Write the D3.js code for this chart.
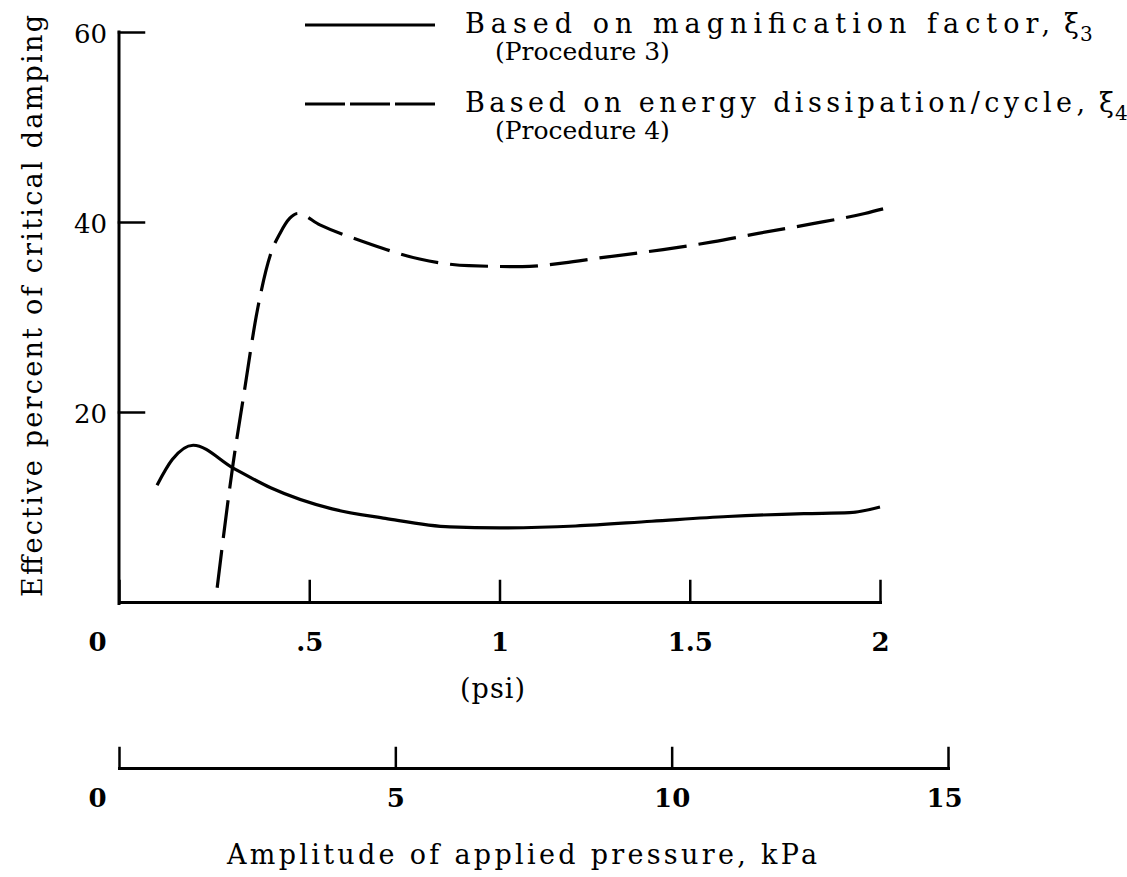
<!DOCTYPE html>
<html>
<head>
<meta charset="utf-8">
<script src="https://cdn.jsdelivr.net/npm/d3@7"></script>
<style>
  body { margin: 0; background: #fff; }
  svg { display: block; }
  text { font-family: "DejaVu Serif", "Liberation Serif", serif; fill: #000; }
</style>
</head>
<body>
<svg id="chart"></svg>
<script>
// tick values
const psiTicks = [0, 0.5, 1, 1.5, 2];
const psiLabels = ['0', '.5', '1', '1.5', '2'];
const kpaTicks = [0, 5, 10, 15];
const pctTicks = [20, 40, 60];

// Procedure 3 - magnification factor (solid)
const proc3Psi = [0.10, 0.14, 0.195, 0.30, 0.40, 0.56, 0.70, 0.87, 1.0, 1.2, 1.4, 1.6, 1.8, 1.92, 2.0];
const proc3Pct = [12.3, 15.0, 16.5, 14.1, 12.0, 9.8, 8.8, 7.9, 7.8, 8.0, 8.5, 9.0, 9.3, 9.4, 10.0];

// Procedure 4 - energy dissipation/cycle (dashed)
const proc4Psi = [0.258, 0.30, 0.326, 0.365, 0.40, 0.423, 0.449, 0.47, 0.528, 0.652, 0.79, 0.92, 1.06, 1.17, 1.26, 1.43, 1.56, 1.68, 1.82, 1.96, 2.02];
const proc4Pct = [1.5, 14.6, 21.3, 31, 36.8, 38.8, 40.4, 40.9, 39.7, 37.8, 36.1, 35.4, 35.3, 35.7, 36.2, 37.1, 37.9, 38.8, 39.8, 40.9, 41.5];

const W = 1127, H = 877;
const svg = d3.select('#chart').attr('width', W).attr('height', H);

const x = d3.scaleLinear().domain([0, 2]).range([119, 880]);
const y = d3.scaleLinear().domain([0, 60]).range([602, 32]);
const k = d3.scaleLinear().domain([0, 15]).range([119, 948]);

function styleAxis(g) {
    g.select('.domain').attr('stroke', '#000').attr('stroke-width', 3);
    g.selectAll('.tick line').attr('stroke', '#000').attr('stroke-width', 2.5);
}

// psi axis
const xAxis = svg.append('g')
    .attr('transform', 'translate(0,602)')
    .call(d3.axisBottom(x).tickValues(psiTicks).tickSizeInner(-21).tickSizeOuter(0)
        .tickFormat((d, i) => psiLabels[i]));
styleAxis(xAxis);
xAxis.selectAll('.tick text')
    .attr('y', 49).attr('dy', 0)
    .attr('x', d => d === 0 ? -22 : 0)
    .style('font-size', '26px').style('font-weight', 'bold');

// y axis
const yAxis = svg.append('g')
    .attr('transform', 'translate(119,0)')
    .call(d3.axisLeft(y).tickValues(pctTicks).tickSizeInner(-25).tickSizeOuter(0));
styleAxis(yAxis);
yAxis.select('.domain').attr('d', `M0,${y(0) + 1.5}V${y(60)}`);
yAxis.selectAll('.tick text')
    .attr('x', -12).attr('dy', '0.4em')
    .style('font-size', '26px');

// kPa axis
const kAxis = svg.append('g')
    .attr('transform', 'translate(0,768)')
    .call(d3.axisBottom(k).tickValues(kpaTicks).tickSizeInner(-20).tickSizeOuter(0));
styleAxis(kAxis);
kAxis.selectAll('.tick text')
    .attr('y', 39).attr('dy', 0)
    .attr('x', d => d === 0 ? -22 : (d === 15 ? -4 : 0))
    .style('font-size', '26px').style('font-weight', 'bold');

svg.selectAll('.domain, .tick line').attr('stroke-linecap', 'square');

// curves
const line = d3.line().curve(d3.curveMonotoneX).x(d => x(d[0])).y(d => y(d[1]));

svg.append('path')
    .datum(proc3Psi.map((p, i) => [p, proc3Pct[i]]))
    .attr('d', line)
    .attr('fill', 'none').attr('stroke', '#000').attr('stroke-width', 3.2);

svg.append('path')
    .datum(proc4Psi.map((p, i) => [p, proc4Pct[i]]))
    .attr('d', line)
    .attr('fill', 'none').attr('stroke', '#000').attr('stroke-width', 3.2)
    .attr('stroke-dasharray', '38,12');

// axis titles
svg.append('text')
    .attr('transform', 'translate(42,306) rotate(-90)')
    .attr('text-anchor', 'middle')
    .attr('textLength', 582).attr('lengthAdjust', 'spacing')
    .style('font-size', '27px')
    .text('Effective percent of critical damping');

svg.append('text')
    .attr('x', 493).attr('y', 698)
    .attr('text-anchor', 'middle')
    .style('font-size', '27px').style('letter-spacing', '1px')
    .text('(psi)');

svg.append('text')
    .attr('x', 227).attr('y', 864)
    .attr('textLength', 590).attr('lengthAdjust', 'spacing')
    .style('font-size', '27px')
    .text('Amplitude of applied pressure, kPa');

// legend
const legend = svg.append('g');
legend.append('line')
    .attr('x1', 305).attr('x2', 435).attr('y1', 25).attr('y2', 25)
    .attr('stroke', '#000').attr('stroke-width', 3);
legend.append('line')
    .attr('x1', 305).attr('x2', 435).attr('y1', 104).attr('y2', 104)
    .attr('stroke', '#000').attr('stroke-width', 3)
    .attr('stroke-dasharray', '40,5');

const legendRows = [
    { y: 33, text: 'Based on magnification factor,', len: 585, sub: '3', proc: '(Procedure 3)' },
    { y: 112, text: 'Based on energy dissipation/cycle,', len: 620, sub: '4', proc: '(Procedure 4)' }
];
legendRows.forEach(r => {
    legend.append('text')
        .attr('x', 465).attr('y', r.y)
        .attr('textLength', r.len).attr('lengthAdjust', 'spacing')
        .style('font-size', '27px')
        .text(r.text);
    legend.append('text')
        .attr('x', 465 + r.len + 14).attr('y', r.y)
        .style('font-size', '27px')
        .text('ξ');
    legend.append('text')
        .attr('x', 465 + r.len + 30).attr('y', r.y + 8)
        .style('font-size', '20px')
        .text(r.sub);
    legend.append('text')
        .attr('x', 495).attr('y', r.y + 27)
        .style('font-size', '25px')
        .text(r.proc);
});
</script>
</body>
</html>
